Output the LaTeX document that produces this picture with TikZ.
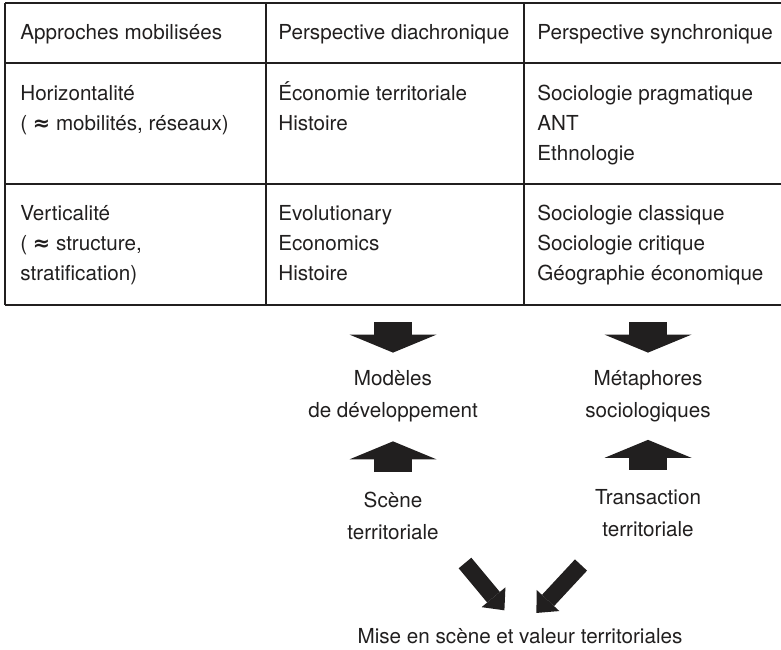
\documentclass[tikz,border=0pt]{standalone}
\usepackage{amsmath}
\usepackage{fontspec}
\setmainfont{TeX Gyre Heros}
\newfontfamily\symbfont{DejaVu Sans}
\usetikzlibrary{arrows.meta}
\definecolor{ink}{rgb}{0.13,0.12,0.12}
\newcommand{\approxsign}{{\symbfont\bfseries ≈}}

\begin{document}
\begin{tikzpicture}[scale=0.2]
\tikzstyle{every node}+=[inner sep=0pt, text=ink]
\tikzstyle{celltext}=[anchor=base west, align=left, font=\fontsize{11.75}{17.07}\selectfont]
\tikzstyle{lowtext}=[anchor=base, align=center, font=\fontsize{11.75}{18.2}\selectfont]
\tikzstyle{rule}=[ink, line width=0.6pt]
\tikzstyle{bigarrow}=[ink, line width=0.76cm, -{Triangle[width=1.74cm,length=0.36cm,line width=0pt]}]
\tikzstyle{diagarrow}=[ink, line width=0.33cm, -{Triangle[width=0.62cm,length=0.34cm,line width=0pt]}]
\useasboundingbox (0,0) rectangle (78.1,-64.9);
% table
\draw [rule] (0.5,-0.3) -- (78.1,-0.3);
\draw [rule] (0.5,-6.3) -- (78.1,-6.3);
\draw [rule] (0.5,-18.4) -- (78.1,-18.4);
\draw [rule] (0.5,-30.5) -- (78.1,-30.5);
\draw [rule] (0.5,-0.3) -- (0.5,-30.5);
\draw [rule] (26.6,-0.3) -- (26.6,-30.5);
\draw [rule] (52.4,-0.3) -- (52.4,-30.5);
% cells (anchored on the last line)
\node [celltext] (h1) at (2.0,-4.0) {Approches mobilisées};
\node [celltext] (h2) at (27.8,-4.0) {Perspective diachronique};
\node [celltext] (h3) at (53.7,-4.0) {Perspective synchronique};
\node [celltext] (horiz) at (2.0,-13.0) {Horizontalité\\( \approxsign{} mobilités, réseaux)};
\node [celltext] (horizdia) at (27.8,-13.0) {Économie territoriale\\Histoire};
\node [celltext] (horizsyn) at (53.7,-16.0) {Sociologie pragmatique\\ANT\\Ethnologie};
\node [celltext] (vert) at (2.0,-28.0) {Verticalité\\( \approxsign{} structure,\\stratification)};
\node [celltext] (vertdia) at (27.8,-28.0) {Evolutionary\\Economics\\Histoire};
\node [celltext] (vertsyn) at (53.7,-28.0) {Sociologie classique\\Sociologie critique\\Géographie économique};
% below the table
\coordinate (diabot) at (39.3,-30.5);
\coordinate (synbot) at (64.8,-30.5);
\node [lowtext] (modeles) at (39.3,-41.7) {Modèles\\de développement};
\node [lowtext] (metaphores) at (64.8,-41.7) {Métaphores\\sociologiques};
\node [lowtext] (scene) at (39.3,-53.95) {Scène\\territoriale};
\node [lowtext] (transaction) at (64.8,-53.65) {Transaction\\territoriale};
\node [lowtext] (mise) at (52.0,-64.3) {Mise en scène et valeur territoriales};
\coordinate (scenefoot) at (46.5,-56.3);
\coordinate (transfoot) at (58.1,-56.5);
\draw [bigarrow, shorten <=0.34cm, shorten >=0.34cm] (diabot) -- (modeles.north);
\draw [bigarrow, shorten <=0.34cm, shorten >=0.34cm] (synbot) -- (metaphores.north);
\draw [bigarrow, shorten <=0.39cm, shorten >=0.39cm] (scene.north) -- (modeles.south);
\draw [bigarrow, shorten <=0.39cm, shorten >=0.36cm] (transaction.north) -- (metaphores.south);
\draw [diagarrow, shorten >=0.45cm] (scenefoot) -- ([xshift=-0.12cm]mise.north);
\draw [diagarrow, shorten >=0.40cm] (transfoot) -- ([xshift=0.28cm]mise.north);
\end{tikzpicture}
\end{document}
